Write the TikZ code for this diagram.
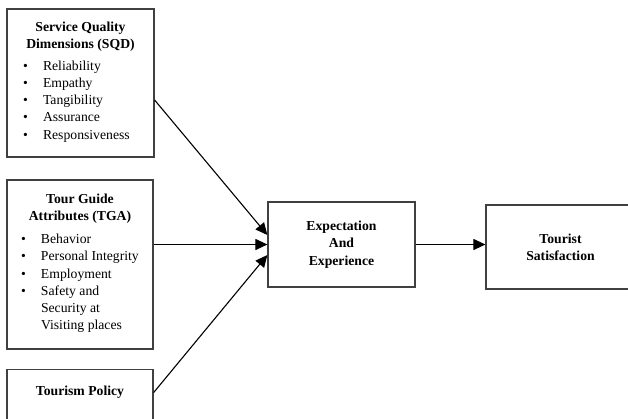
\documentclass[tikz,border=0pt]{standalone}
\usepackage{fontspec}
\setmainfont{Liberation Serif}
\usetikzlibrary{arrows.meta}

\begin{document}
\begin{tikzpicture}[x=1pt,y=-1pt]

    \tikzstyle{block} = [draw=black!75, line width=1.2pt, fill=white, rectangle, inner sep=0pt, align=center, font=\fontsize{13.7}{17.2}\selectfont]
    \tikzstyle{link} = [draw, line width=1.1pt, -{Triangle[length=12pt,width=11pt]}]

    \useasboundingbox (0,0) rectangle (628,418);
    \clip (0,0) rectangle (628,418);

    \node[block, minimum width=147pt, minimum height=148pt] (sqd) at (80.5,83) {\textbf{Service Quality}\\\textbf{Dimensions (SQD)}\\[6pt]
        \begin{tabular}{@{}l@{\hspace{15pt}}l@{}}
        \textbullet & Reliability\\
        \textbullet & Empathy\\
        \textbullet & Tangibility\\
        \textbullet & Assurance\\
        \textbullet & Responsiveness
        \end{tabular}\kern8pt};
    \node[block, minimum width=146pt, minimum height=169pt] (tga) at (80,264.5) {\textbf{Tour Guide}\\\textbf{Attributes (TGA)}\\[7pt]
        \begin{tabular}{@{}l@{\hspace{15pt}}l@{}}
        \textbullet & Behavior\\
        \textbullet & Personal Integrity\\
        \textbullet & Employment\\
        \textbullet & Safety and\\
                    & Security at\\
                    & Visiting places
        \end{tabular}};
    \node[block, minimum width=146pt, minimum height=56pt, anchor=north] (tp) at (80,369) {\raisebox{5pt}[\height][\depth]{\textbf{Tourism Policy}}};
    \node[block, minimum width=147pt, minimum height=85pt] (ee) at (341.5,244.5) {\textbf{Expectation}\\\textbf{And}\\\textbf{Experience}};
    \node[block, minimum width=149pt, minimum height=84pt] (ts) at (560.5,247) {\textbf{Tourist}\\\textbf{Satisfaction}};

    \draw[link] ([yshift=-17pt]sqd.east) -- ([yshift=9.5pt]ee.west);
    \draw[link] (tga.east |- ee.west) -- (ee.west);
    \draw[link] ([yshift=5pt]tp.east) -- ([yshift=-10.5pt]ee.west);
    \draw[link] (ee.east) -- (ee.east -| ts.west);
\end{tikzpicture}
\end{document}
